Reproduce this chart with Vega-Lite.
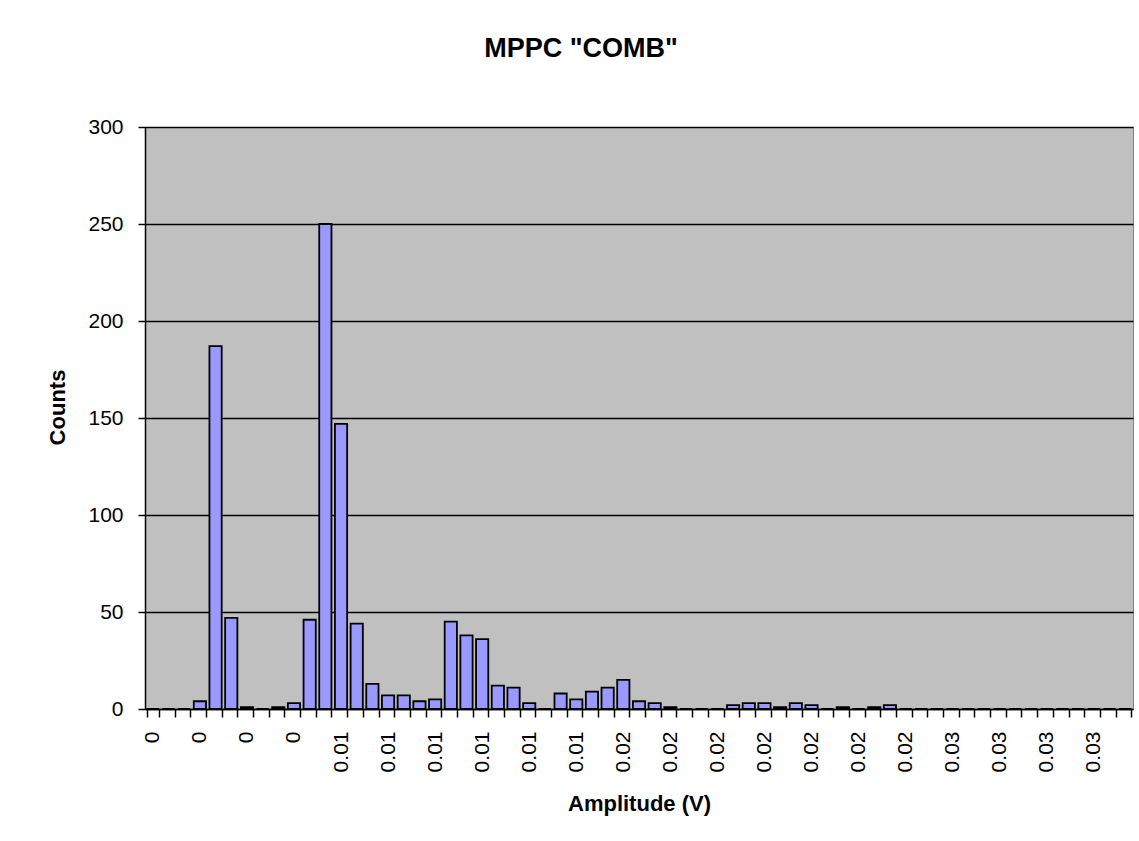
{
  "$schema": "https://vega.github.io/schema/vega-lite/v6.json",
  "autosize": {"type": "none"},
  "padding": {"left": 145, "top": 127, "right": 6, "bottom": 132},
  "width": 988,
  "height": 582,
  "background": "white",
  "title": {
    "text": "MPPC \"COMB\"",
    "font": "Liberation Sans",
    "fontSize": 27,
    "fontWeight": "bold",
    "color": "black",
    "anchor": "middle",
    "frame": "group",
    "dx": -58,
    "baseline": "middle",
    "offset": 40
  },
  "data": {
    "values": [
      {"amplitude": 0.00025, "counts": 0},
      {"amplitude": 0.00075, "counts": 0},
      {"amplitude": 0.00125, "counts": 0},
      {"amplitude": 0.00175, "counts": 4},
      {"amplitude": 0.00225, "counts": 187},
      {"amplitude": 0.00275, "counts": 47},
      {"amplitude": 0.00325, "counts": 1},
      {"amplitude": 0.00375, "counts": 0},
      {"amplitude": 0.00425, "counts": 1},
      {"amplitude": 0.00475, "counts": 3},
      {"amplitude": 0.00525, "counts": 46},
      {"amplitude": 0.00575, "counts": 250},
      {"amplitude": 0.00625, "counts": 147},
      {"amplitude": 0.00675, "counts": 44},
      {"amplitude": 0.00725, "counts": 13},
      {"amplitude": 0.00775, "counts": 7},
      {"amplitude": 0.00825, "counts": 7},
      {"amplitude": 0.00875, "counts": 4},
      {"amplitude": 0.00925, "counts": 5},
      {"amplitude": 0.00975, "counts": 45},
      {"amplitude": 0.01025, "counts": 38},
      {"amplitude": 0.01075, "counts": 36},
      {"amplitude": 0.01125, "counts": 12},
      {"amplitude": 0.01175, "counts": 11},
      {"amplitude": 0.01225, "counts": 3},
      {"amplitude": 0.01275, "counts": 0},
      {"amplitude": 0.01325, "counts": 8},
      {"amplitude": 0.01375, "counts": 5},
      {"amplitude": 0.01425, "counts": 9},
      {"amplitude": 0.01475, "counts": 11},
      {"amplitude": 0.01525, "counts": 15},
      {"amplitude": 0.01575, "counts": 4},
      {"amplitude": 0.01625, "counts": 3},
      {"amplitude": 0.01675, "counts": 1},
      {"amplitude": 0.01725, "counts": 0},
      {"amplitude": 0.01775, "counts": 0},
      {"amplitude": 0.01825, "counts": 0},
      {"amplitude": 0.01875, "counts": 2},
      {"amplitude": 0.01925, "counts": 3},
      {"amplitude": 0.01975, "counts": 3},
      {"amplitude": 0.02025, "counts": 1},
      {"amplitude": 0.02075, "counts": 3},
      {"amplitude": 0.02125, "counts": 2},
      {"amplitude": 0.02175, "counts": 0},
      {"amplitude": 0.02225, "counts": 1},
      {"amplitude": 0.02275, "counts": 0},
      {"amplitude": 0.02325, "counts": 1},
      {"amplitude": 0.02375, "counts": 2},
      {"amplitude": 0.02425, "counts": 0},
      {"amplitude": 0.02475, "counts": 0},
      {"amplitude": 0.02525, "counts": 0},
      {"amplitude": 0.02575, "counts": 0},
      {"amplitude": 0.02625, "counts": 0},
      {"amplitude": 0.02675, "counts": 0},
      {"amplitude": 0.02725, "counts": 0},
      {"amplitude": 0.02775, "counts": 0},
      {"amplitude": 0.02825, "counts": 0},
      {"amplitude": 0.02875, "counts": 0},
      {"amplitude": 0.02925, "counts": 0},
      {"amplitude": 0.02975, "counts": 0},
      {"amplitude": 0.03025, "counts": 0},
      {"amplitude": 0.03075, "counts": 0},
      {"amplitude": 0.03125, "counts": 0}
    ]
  },
  "mark": {"type": "bar", "fill": "#9999ff", "stroke": "black", "strokeWidth": 1.8},
  "encoding": {
    "x": {
      "field": "amplitude",
      "type": "ordinal",
      "sort": "ascending",
      "scale": {"paddingInner": 0.22, "paddingOuter": 0.11},
      "axis": {
        "title": "Amplitude (V)",
        "titleFont": "Liberation Sans",
        "titleFontSize": 22,
        "titleFontWeight": "bold",
        "titleColor": "black",
        "titleX": 494,
        "titleY": 94,
        "titleBaseline": "middle",
        "titleAnchor": "middle",
        "labelAngle": 270,
        "labelFont": "Liberation Sans",
        "labelFontSize": 21,
        "labelColor": "black",
        "labelPadding": 14,
        "labelOverlap": false,
        "labelExpr": "round((datum.value - 0.00025) / 0.0005) % 3 === 0 ? format(datum.value, '.2~f') : ''",
        "tickBand": "extent",
        "tickSize": 8,
        "tickColor": "black",
        "tickWidth": 1.5,
        "domainColor": "black",
        "domainWidth": 1.5,
        "grid": false
      }
    },
    "y": {
      "field": "counts",
      "type": "quantitative",
      "scale": {"domain": [0, 300], "nice": false},
      "axis": {
        "title": "Counts",
        "titleFont": "Liberation Sans",
        "titleFontSize": 22,
        "titleFontWeight": "bold",
        "titleColor": "black",
        "titleX": -88,
        "titleY": 280,
        "titleBaseline": "middle",
        "titleAnchor": "middle",
        "values": [0, 50, 100, 150, 200, 250, 300],
        "labelFont": "Liberation Sans",
        "labelFontSize": 21,
        "labelColor": "black",
        "labelPadding": 15,
        "tickSize": 7,
        "tickColor": "black",
        "tickWidth": 1.5,
        "domainColor": "black",
        "domainWidth": 1.5,
        "grid": true,
        "gridColor": "black",
        "gridWidth": 1.5
      }
    }
  },
  "config": {
    "view": {"fill": "#c0c0c0", "stroke": "#808080", "strokeWidth": 1}
  }
}
